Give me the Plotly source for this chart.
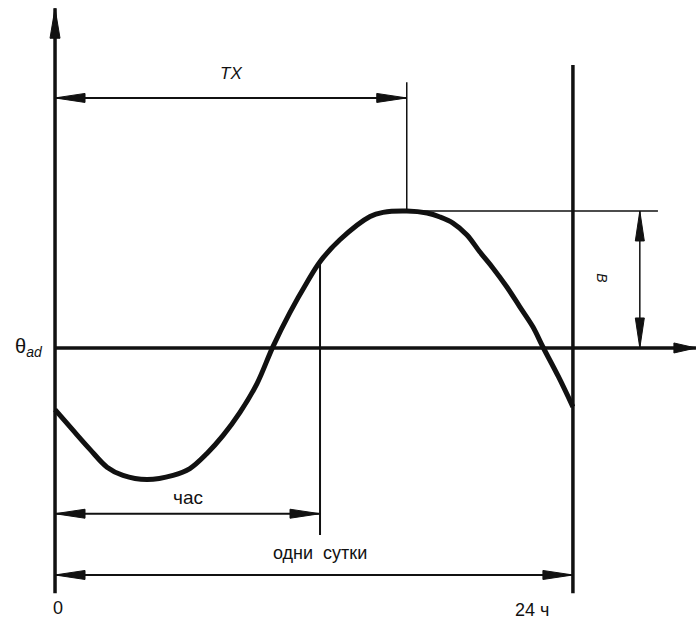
import plotly.graph_objects as go

# ── Data ──────────────────────────────────────────────────────────────────
# time of day, h
hours = [0, 0.83, 1.62, 2.41, 3.15, 4.26, 5.47, 6.25, 7.04, 7.78, 8.57,
         9.36, 10.1, 10.89, 11.68, 12.28, 13.2, 14.6, 15.2, 16.3, 17.24,
         17.84, 18.44, 19.09, 19.69, 20.29, 20.94, 21.54, 22.15, 22.61,
         23.33, 24]
# temperature deviation from theta_ad, in units of the amplitude B
temp = [-0.45, -0.60, -0.74, -0.87, -0.93, -0.96, -0.93, -0.88, -0.77,
        -0.64, -0.47, -0.26, 0.01, 0.26, 0.48, 0.63, 0.79, 0.96, 0.99,
        1.0, 0.985, 0.956, 0.912, 0.825, 0.70, 0.584, 0.445, 0.30, 0.153,
        0.007, -0.21, -0.43]

PERIOD = 24          # одни сутки
HOUR_MARK = 12.28    # "час" dimension end
tick_labels = ["0", "24 ч"]

T_PEAK = hours[temp.index(max(temp))]
B = max(temp)
HOUR_TEMP = temp[hours.index(HOUR_MARK)]

# ── Layout constants ──────────────────────────────────────────────────────
W, H = 697, 621
X_RANGE = [-2.55, 29.75]
Y_RANGE = [-1.993, 2.54]
PX_X = W / (X_RANGE[1] - X_RANGE[0])
PX_Y = H / (Y_RANGE[1] - Y_RANGE[0])

INK = "#111111"
FONT = "Arial, 'Liberation Sans', sans-serif"
HEAD_L, HEAD_W = 30, 4.5   # arrowhead length / half width, px

shapes = []


def line(x0, y0, x1, y1, width=2):
    shapes.append(dict(type="line", xref="x", yref="y", x0=x0, y0=y0,
                       x1=x1, y1=y1, line=dict(color=INK, width=width)))


def head(x, y, direction, length=HEAD_L, half=HEAD_W):
    # filled arrowhead with tip at (x, y)
    if direction in ("right", "left"):
        s = 1 if direction == "right" else -1
        xb = x - s * length / PX_X
        dy = half / PX_Y
        path = f"M{x},{y} L{xb},{y + dy} L{xb},{y - dy} Z"
    else:
        s = 1 if direction == "up" else -1
        yb = y - s * length / PX_Y
        dx = half / PX_X
        path = f"M{x},{y} L{x + dx},{yb} L{x - dx},{yb} Z"
    shapes.append(dict(type="path", xref="x", yref="y", path=path,
                       fillcolor=INK, line=dict(color=INK, width=1)))


def dim_h(x0, x1, y, width=2):
    line(x0, y, x1, y, width)
    head(x0, y, "left")
    head(x1, y, "right")


def dim_v(x, y0, y1, width=2):
    line(x, y0, x, y1, width)
    head(x, y0, "down")
    head(x, y1, "up")


# axes
line(0, -1.79, 0, 2.48, 3.5)
head(0, 2.48, "up", half=5)
line(0, 0, 29.7, 0, 3.5)
head(29.7, 0, "right", length=22, half=5)
line(PERIOD, -1.79, PERIOD, 2.066, 3.5)

# TX
line(T_PEAK, B, T_PEAK, 1.94, 1.5)
dim_h(0, T_PEAK, 1.825)

# B
line(T_PEAK, B, 27.94, B, 1.5)
dim_v(27.1, 0, B, 1.5)

# час
line(HOUR_MARK, HOUR_TEMP, HOUR_MARK, -1.365, 2)
dim_h(0, HOUR_MARK, -1.21)

# одни сутки
dim_h(0, PERIOD, -1.657)

fig = go.Figure()
fig.add_trace(go.Scatter(
    x=hours, y=temp, mode="lines", line_shape="spline",
    line=dict(color=INK, width=5), hoverinfo="skip", showlegend=False,
))


def label(x, y, text, size=16, **kw):
    fig.add_annotation(x=x, y=y, xref="x", yref="y", text=text,
                       showarrow=False, font=dict(family=FONT, size=size, color=INK), **kw)


label(T_PEAK / 2, 2.0, "<i>TX</i>", 17)
label(HOUR_MARK / 2, -1.09, "час", 19)
label(HOUR_MARK, -1.50, "одни  сутки", 18)
label(0.15, -1.90, tick_labels[0], 18)
label(22.1, -1.91, tick_labels[1], 18)
label(25.34, 0.51, "<i>B</i>", 14, textangle=90)
label(-0.45, 0.0, "θ<sub><i>ad</i></sub>", 20, xanchor="right")

fig.update_layout(
    width=W, height=H,
    margin=dict(l=0, r=0, t=0, b=0),
    paper_bgcolor="white", plot_bgcolor="white",
    xaxis=dict(range=X_RANGE, visible=False, fixedrange=True),
    yaxis=dict(range=Y_RANGE, visible=False, fixedrange=True),
    shapes=shapes,
    showlegend=False,
)

fig.write_html("out.html", config={"displayModeBar": False},
               post_script="document.body.style.margin='0';")
